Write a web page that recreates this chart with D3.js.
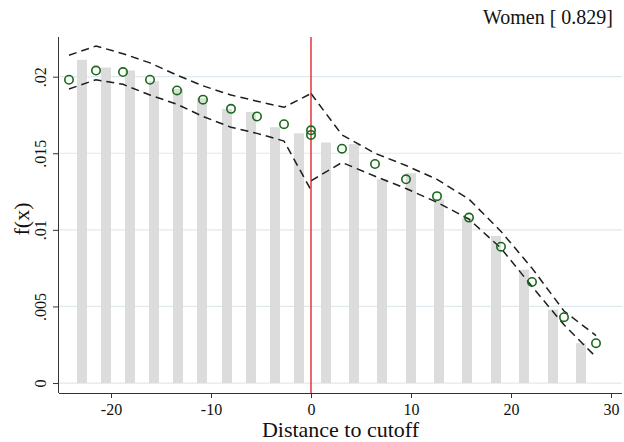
<!DOCTYPE html>
<html>
<head>
<meta charset="utf-8">
<script src="https://cdn.jsdelivr.net/npm/d3@7"></script>
<style>
  body { margin: 0; background: #fff; }
  text { font-family: "Liberation Serif", "Times New Roman", serif; fill: #111; }
</style>
</head>
<body>
<div id="viz"></div>
<script>
// histogram bins (bin midpoints) and densities
var binLeft = [-22.9, -20.5, -18.1, -15.7, -13.3, -10.9, -8.4, -6.0, -3.6, -1.2]
var barLeft = [0.0211, 0.0206, 0.0204, 0.0197, 0.0192, 0.0186, 0.0179, 0.0177, 0.0167, 0.0163]
var binRight = [1.5, 4.3, 7.1, 10.0, 12.8, 15.6, 18.5, 21.3, 24.2, 27.0]
var barRight = [0.0157, 0.0156, 0.0133, 0.0137, 0.0120, 0.0108, 0.0096, 0.0074, 0.0048, 0.0026]

// fitted density + confidence band, left of cutoff
var gridLeft = [-24.2, -21.5, -18.8, -16.1, -13.4, -10.8, -8.0, -5.4, -2.7, 0]
var fitLeft = [0.0198, 0.0204, 0.0203, 0.0198, 0.0191, 0.0185, 0.0179, 0.0174, 0.0169, 0.0165]
var hiLeft = [0.0214, 0.0220, 0.0215, 0.0209, 0.0201, 0.0194, 0.0188, 0.0184, 0.0180, 0.0189]
var loLeft = [0.0192, 0.0198, 0.0195, 0.0188, 0.0182, 0.0174, 0.0167, 0.0163, 0.0158, 0.0126]

// right of cutoff
var gridRight = [0, 3.1, 6.4, 9.5, 12.6, 15.8, 19.0, 22.1, 25.3, 28.5]
var fitRight = [0.0162, 0.0153, 0.0143, 0.0133, 0.0122, 0.0108, 0.0089, 0.0066, 0.0043, 0.0026]
var hiRight = [0.0189, 0.0162, 0.0150, 0.0142, 0.0133, 0.0120, 0.0099, 0.0075, 0.0047, 0.0031]
var loRight = [0.0132, 0.0144, 0.0135, 0.0127, 0.0118, 0.0107, 0.0088, 0.0063, 0.0038, 0.0017]

var xTicks = [-20, -10, 0, 10, 20, 30]
var yTicks = [0, 0.005, 0.01, 0.015, 0.02]
var yTickLabels = ["0", ".005", ".01", ".015", ".02"]
var title = "Women [ 0.829]"

var width = 624, height = 442
var margin = { top: 37, right: 2, bottom: 49, left: 59 }

var svg = d3.select("#viz")
  .append("svg")
  .attr("width", width)
  .attr("height", height)

var x = d3.scaleLinear()
  .domain([-25.2, 31.1])
  .range([margin.left, width - margin.right])

var y = d3.scaleLinear()
  .domain([-0.00065, 0.02259])
  .range([height - margin.bottom, margin.top])

// grid lines
svg.append("g")
  .selectAll("line")
  .data(yTicks)
  .enter().append("line")
  .attr("x1", x.range()[0])
  .attr("x2", x.range()[1])
  .attr("y1", d => y(d))
  .attr("y2", d => y(d))
  .style("stroke", "#dfeaef")
  .style("stroke-width", 1.2)

// bars
var bars = binLeft.map((b, i) => ({ x: b, v: barLeft[i] }))
  .concat(binRight.map((b, i) => ({ x: b, v: barRight[i] })))
var barW = x(1) - x(0)

svg.append("g")
  .selectAll("rect")
  .data(bars)
  .enter().append("rect")
  .attr("x", d => x(d.x) - barW / 2)
  .attr("width", barW)
  .attr("y", d => y(d.v))
  .attr("height", d => y(0) - y(d.v))
  .style("fill", "#dcdcdc")

// confidence bands
var line = d3.line()
  .x(d => x(d[0]))
  .y(d => y(d[1]))

var bands = [
  d3.zip(gridLeft, hiLeft), d3.zip(gridLeft, loLeft),
  d3.zip(gridRight, hiRight), d3.zip(gridRight, loRight)
]
svg.append("g")
  .selectAll("path")
  .data(bands)
  .enter().append("path")
  .attr("d", line)
  .style("fill", "none")
  .style("stroke", "#1e1e1e")
  .style("stroke-width", 1.5)
  .style("stroke-dasharray", "8,5")

// cutoff line
svg.append("line")
  .attr("x1", x(0)).attr("x2", x(0))
  .attr("y1", y.range()[1]).attr("y2", y.range()[0])
  .style("stroke", "#e3141c")
  .style("stroke-width", 1.3)

// fitted points
var pts = d3.zip(gridLeft, fitLeft).concat(d3.zip(gridRight, fitRight))
svg.append("g")
  .selectAll("circle")
  .data(pts)
  .enter().append("circle")
  .attr("cx", d => x(d[0]))
  .attr("cy", d => y(d[1]))
  .attr("r", 4.2)
  .style("fill", "none")
  .style("stroke", "#17691a")
  .style("stroke-width", 1.6)

// axes
var xAxis = svg.append("g")
  .attr("transform", "translate(0," + y.range()[0] + ")")
  .call(d3.axisBottom(x).tickValues(xTicks).tickSize(5).tickPadding(6).tickFormat(d => String(d)))
xAxis.select(".domain").attr("d", "M" + x.range()[0] + ",0.5H" + x.range()[1]).style("stroke", "#333")
xAxis.selectAll(".tick line").style("stroke", "#333")
xAxis.selectAll(".tick text").style("font-size", "16px").style("font-family", "Liberation Serif").attr("fill", "#111")

var yAxis = svg.append("g")
  .attr("transform", "translate(" + x.range()[0] + ",0)")
  .call(d3.axisLeft(y).tickValues(yTicks).tickSize(6).tickFormat((d, i) => yTickLabels[i]))
yAxis.select(".domain").attr("d", "M-0.5," + y.range()[0] + "V" + y.range()[1]).style("stroke", "#333")
yAxis.selectAll(".tick line").style("stroke", "#333")
yAxis.selectAll(".tick text")
  .attr("x", null).attr("dy", null)
  .attr("transform", "translate(-13,0) rotate(-90)")
  .attr("text-anchor", "middle")
  .attr("fill", "#111")
  .style("font-size", "16px")
  .style("font-family", "Liberation Serif")

// titles
svg.append("text")
  .attr("x", (x.range()[0] + x.range()[1]) / 2)
  .attr("y", 437)
  .attr("text-anchor", "middle")
  .style("font-size", "22px")
  .text("Distance to cutoff")

svg.append("text")
  .attr("transform", "translate(29,219) rotate(-90)")
  .attr("text-anchor", "middle")
  .style("font-size", "22px")
  .text("f(x)")

svg.append("text")
  .attr("x", 613)
  .attr("y", 24)
  .attr("text-anchor", "end")
  .style("font-size", "20px")
  .text(title)
</script>
</body>
</html>
